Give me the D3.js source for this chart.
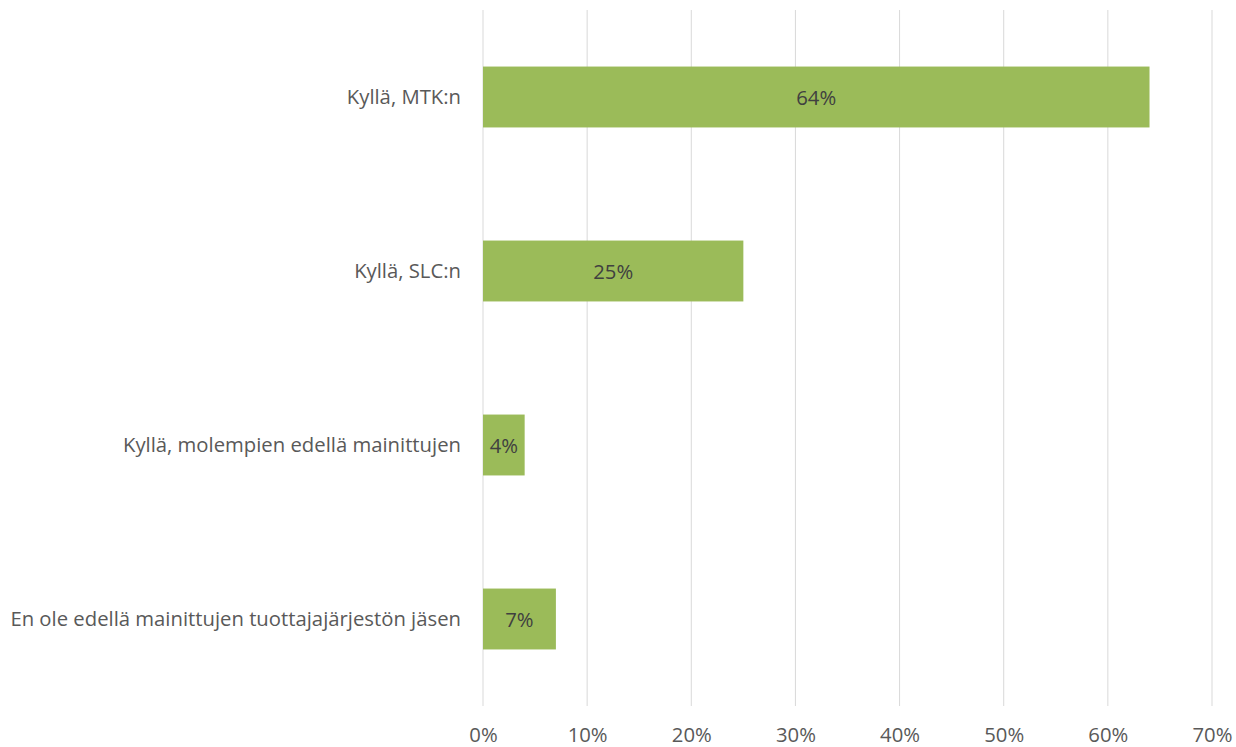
<!DOCTYPE html>
<html>
<head>
<meta charset="utf-8">
<script src="https://cdn.jsdelivr.net/npm/d3@7"></script>
<style>
  body { margin: 0; background: #fff; }
  text { font-family: "Open Sans", Lato, sans-serif; }
</style>
</head>
<body>
<div id="chart"></div>
<script>
const categories = [
    "Kyllä, MTK:n",
    "Kyllä, SLC:n",
    "Kyllä, molempien edellä mainittujen",
    "En ole edellä mainittujen tuottajajärjestön jäsen"
];
const values = [0.64, 0.25, 0.04, 0.07];
const tickValues = [0, 0.1, 0.2, 0.3, 0.4, 0.5, 0.6, 0.7];

const W = 1236, H = 747;
const margin = {top: 10, right: 24, bottom: 41, left: 483};
const width = W - margin.left - margin.right;
const height = H - margin.top - margin.bottom;
const fontSize = "20.3px";

const svg = d3.select("#chart").append("svg")
    .attr("width", W)
    .attr("height", H)
    .append("g")
    .attr("transform", `translate(${margin.left},${margin.top})`);

const x = d3.scaleLinear()
    .domain([0, 0.7])
    .range([0, width]);

const y = d3.scaleBand()
    .domain(categories)
    .range([0, height])
    .paddingInner(0.65)
    .paddingOuter(0.325);

// gridlines
svg.selectAll(".grid")
    .data(tickValues)
    .enter()
    .append("line")
    .attr("class", "grid")
    .attr("x1", d => x(d))
    .attr("x2", d => x(d))
    .attr("y1", 0)
    .attr("y2", height)
    .attr("stroke", "#d9d9d9")
    .attr("stroke-width", 1);

// x axis labels
const xAxis = svg.append("g")
    .attr("transform", `translate(0,${height})`)
    .call(d3.axisBottom(x).tickValues(tickValues).tickFormat(d3.format(".0%")).tickSize(0).tickPadding(22));
xAxis.select(".domain").remove();
xAxis.selectAll("text")
    .attr("fill", "#595959")
    .style("font-size", fontSize)
    .style("font-family", "'Open Sans', Lato, sans-serif");

// y axis labels
const yAxis = svg.append("g")
    .call(d3.axisLeft(y).tickSize(0).tickPadding(22));
yAxis.select(".domain").remove();
yAxis.selectAll("text")
    .attr("fill", "#595959")
    .style("font-size", fontSize)
    .style("font-family", "'Open Sans', Lato, sans-serif");

// bars
svg.selectAll(".bar")
    .data(values)
    .enter()
    .append("rect")
    .attr("class", "bar")
    .attr("x", x(0))
    .attr("y", (d, i) => y(categories[i]))
    .attr("width", d => x(d) - x(0))
    .attr("height", y.bandwidth())
    .attr("fill", "#9bbb59");

// data labels
svg.selectAll(".label")
    .data(values)
    .enter()
    .append("text")
    .attr("class", "label")
    .attr("x", d => (x(0) + x(d)) / 2)
    .attr("y", (d, i) => y(categories[i]) + y.bandwidth() / 2)
    .attr("text-anchor", "middle")
    .attr("dominant-baseline", "central")
    .attr("fill", "#404040")
    .style("font-size", fontSize)
    .text(d => d3.format(".0%")(d));
</script>
</body>
</html>
